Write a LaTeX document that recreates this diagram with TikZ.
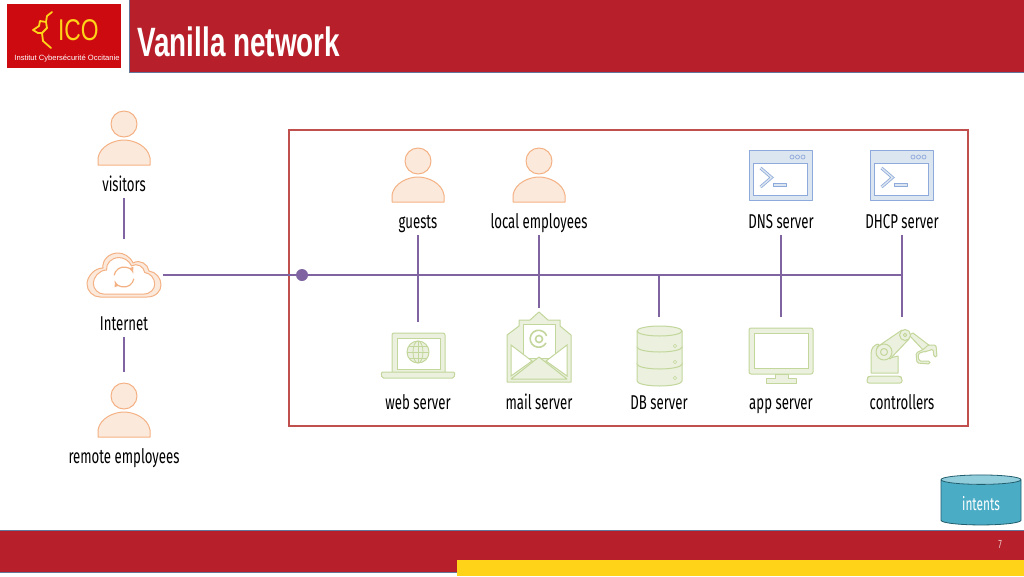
\documentclass[tikz,border=0pt]{standalone}
\usepackage{fontspec}
\usepackage{tikz}
\usetikzlibrary{arrows,shapes.geometric}
\setmainfont{Liberation Sans}
\newfontfamily\narrowfont[FakeStretch=0.66]{Fira Sans}
\newfontfamily\titlefont[FakeStretch=0.68]{Liberation Sans Bold}
\definecolor{icored}{HTML}{B7202A}
\definecolor{logored}{HTML}{CC0A10}
\definecolor{icoyellow}{HTML}{FFD317}
\definecolor{boxred}{HTML}{C0504D}
\definecolor{busviolet}{HTML}{8064A2}
\definecolor{peachline}{HTML}{F4B183}
\definecolor{peachfill}{HTML}{FBE9DC}
\definecolor{greenline}{HTML}{C3D69B}
\definecolor{greenfill}{HTML}{EBF1DE}
\definecolor{blueline}{HTML}{8EA9DB}
\definecolor{bluefill}{HTML}{DCE6F1}
\definecolor{tealbody}{HTML}{4BACC6}
\definecolor{tealtop}{HTML}{92CDDC}
\definecolor{tealline}{HTML}{215E6E}
\tikzset{
  lbl/.style={font=\narrowfont\fontsize{20}{20}\selectfont, text=black, text height=16, text depth=2, minimum height=28, inner sep=0},
  wire/.style={draw=busviolet, line width=1.3pt},
  peach/.style={draw=peachline, fill=peachfill, line width=1pt, line join=round},
  leaf/.style={draw=greenline, fill=greenfill, line width=1pt, line join=round},
  sky/.style={draw=blueline, fill=bluefill, line width=1pt, line join=round},
  pics/person/.style={code={
    \path[peach] (0,0) circle (13);
    \path[peach] (-26,41) -- (-26,34) .. controls (-24,22) and (-10,16) .. (0,16) .. controls (10,16) and (24,22) .. (26,34) -- (26,41) -- cycle;
  }},
  pics/terminal/.style={code={
    \path[sky] (-31.5,-25) rectangle (31.5,25);
    \path[draw=blueline, fill=white, line width=1pt] (-27,-12) rectangle (27,20);
    \foreach \d in {11.5,17,22.5} \draw[blueline, line width=.7pt] (\d,-18) circle (2);
    \draw[blueline, line width=3pt, line join=miter] (-20,-7) -- (-9,2.5) -- (-20,12);
    \draw[bluefill, line width=1.4pt, line join=miter] (-20,-7) -- (-9,2.5) -- (-20,12);
    \path[sky] (-7,8.5) rectangle (6,11.5);
  }}
}
\begin{document}
\begin{tikzpicture}[x=1pt,y=-1pt]
\useasboundingbox (0,0) rectangle (1024,576);
\fill[white] (0,0) rectangle (1024,576);
% header and footer
\path[fill=icored, draw=blueline!70!black, line width=.7pt] (129,-2) rectangle (1026,72);
\node[font=\titlefont\fontsize{41}{41}\selectfont, text=white, anchor=west, inner sep=0] (title) at (137,42) {Vanilla network};
\fill[logored] (7,4) rectangle (121,68);
\node[font=\fontsize{30}{30}\selectfont, text=icoyellow, anchor=west, inner sep=0, xscale=.76] (ico) at (58,30) {ICO};
\node[font=\fontsize{7.6}{8}\selectfont, text=white, inner sep=0] (institut) at (67,58) {Institut Cybersécurité Occitanie};
\draw[icoyellow, line width=1.8pt, line cap=round, line join=round] (52,12) -- (47,16) -- (46,22) -- (47,28) -- (42,33) -- (43,41) -- (51,48) (46,22) -- (40,21) -- (39,26) -- (33,30) -- (38,33) -- (42,33);
\path[fill=icored, draw=blueline!70!black, line width=.7pt] (-2,530) rectangle (1026,572);
\fill[icoyellow] (457,560) rectangle (1024,576);
\node[font=\narrowfont\fontsize{12}{12}\selectfont, text=white!75!icored, inner sep=0] (pagenum) at (1000,545) {7};
% the red box
\node[draw=boxred, line width=1.8pt, minimum width=679, minimum height=296, inner sep=0] (lan) at (628.5,278) {};
% labels
\node[lbl] (visitors) at (124,184) {visitors};
\node[lbl] (internet) at (124,323) {Internet};
\node[lbl] (remote) at (124,456) {remote employees};
\node[lbl] (guests) at (418,221) {guests};
\node[lbl] (locals) at (539,221) {local employees};
\node[lbl] (dns) at (781,221) {DNS server};
\node[lbl] (dhcp) at (902,221) {DHCP server};
\node[lbl] (web) at (418,402) {web server};
\node[lbl] (mail) at (539,402) {mail server};
\node[lbl] (db) at (659,402) {DB server};
\node[lbl] (app) at (781,402) {app server};
\node[lbl] (ctrl) at (902,402) {controllers};
% persons and windows
\foreach \x/\y in {124/124,124/396,418/161,539/161} \pic at (\x,\y) {person};
\foreach \x in {780.5,901.5} \pic at (\x,175) {terminal};
% cloud
\def\cloudpath{(-24,22) -- (23,22) .. controls (32,22) and (37,16) .. (37,10) .. controls (37,3) and (32,-3) .. (25,-4) .. controls (24,-11) and (16,-16) .. (9,-12) .. controls (6,-19) and (-1,-22) .. (-6,-22) .. controls (-15,-22) and (-22,-15) .. (-21,-7) .. controls (-30,-7) and (-37,2) .. (-37,9) .. controls (-37,16) and (-31,22) .. (-24,22) -- cycle}
\begin{scope}[shift={(124,275)}]
\path[peach] \cloudpath;
\begin{scope}[scale=.83, yshift=-1pt]
\path[draw=peachline, fill=white, line width=1pt] \cloudpath;
\end{scope}
\draw[peachline, line width=1.2pt, ->, >=latex] (0,2) ++(190:10) arc (190:340:10);
\draw[peachline, line width=1.2pt, ->, >=latex] (0,2) ++(10:10) arc (10:160:10);
\end{scope}
% web server
\path[leaf, rounded corners=2pt] (392,372) -- (392,333) -- (445,333) -- (445,372);
\path[draw=greenline, fill=white, line width=1pt] (397,338) rectangle (440,369);
\path[leaf, rounded corners=1.5pt] (381,372) -- (455,372) -- (454,378) -- (382,378) -- cycle;
\path[leaf] (418,352) circle (11);
\draw[greenline, line width=.8pt] (418,341) -- (418,363) (407,352) -- (429,352) (409,346) -- (427,346) (409,358) -- (427,358);
\draw[greenline, line width=.8pt] (418,352) ellipse (5 and 11);
% mail server
\path[leaf] (507,382) -- (507,335) -- (519,326) -- (519,320) -- (530,320) -- (539,312) -- (548,320) -- (560,320) -- (560,326) -- (571,335) -- (571,382) -- cycle;
\path[draw=greenline, fill=white, line width=1pt] (523,324) rectangle (555,358);
\path[draw=greenline, fill=white, line width=1pt] (511,345) -- (532,361) -- (511,376) -- cycle;
\path[draw=greenline, fill=white, line width=1pt] (567,345) -- (546,361) -- (567,376) -- cycle;
\path[leaf] (511,379) -- (539,357) -- (567,379) -- cycle;
\draw[greenline, line width=1.6pt] (539,339) circle (3.5);
\draw[greenline, line width=1.6pt] (546,343) arc (30:340:8.5);
% DB server
\foreach \t/\b in {363/381,347/364,331/347} {
  \path[leaf] (637,\t) -- (637,\b) arc (180:0:22.5 and 5) -- (682,\t) -- cycle;
}
\path[leaf] (659.5,331) ellipse (22.5 and 5);
\foreach \t in {346,362,378} \draw[greenline, fill=white, line width=.7pt] (675,\t) circle (1.6);
% app server
\path[leaf, rounded corners=2pt] (749,328) rectangle (813,374);
\path[draw=greenline, fill=white, line width=1pt] (754,333) rectangle (808,368);
\path[leaf] (775,374) -- (788,374) -- (788,378) -- (796,378) -- (796,383) -- (766,383) -- (766,378) -- (775,378) -- cycle;
% controllers
\path[leaf, rounded corners=2pt] (867,383) -- (867,378) -- (869,376) -- (900,376) -- (902,378) -- (902,383) -- cycle;
\path[leaf] (871,373) -- (871,354) .. controls (871,348) and (874,345) .. (878,344) -- (890,358) -- (898,356) -- (898,373) -- cycle;
\path[leaf] (877,347) -- (902,330) -- (909,339) -- (890,359) -- cycle;
\path[leaf] (884,352) circle (8);
\path[leaf] (884,352) circle (3.5);
\path[leaf] (909,335) -- (913,333) -- (930,346) -- (925,352) -- cycle;
\path[leaf] (905,335) circle (5.5);
\path[leaf] (905,335) circle (1.8);
\path[leaf, rounded corners=1.5pt] (924,349) -- (928,345) -- (936,345) -- (937,357) -- (934,357) -- (933,349) -- (928,351) -- (922,352) -- (918,354) -- (919,361) -- (930,361) -- (930,364) -- (917,363) -- (916,353) -- cycle;
% wires
\coordinate (cloudright) at (163,275);
\coordinate (visitorsend) at (124,239);
\coordinate (remoteend) at (124,372);
\node[circle, fill=busviolet, minimum size=12, inner sep=0] (hub) at (302,275) {};
\coordinate (busend) at (902,275);
\coordinate (busdb) at (659,275);
\coordinate (webtop) at (418,322);
\coordinate (mailtop) at (539,308);
\coordinate (dbtop) at (659,317);
\coordinate (apptop) at (781,317);
\coordinate (ctrltop) at (902,317);
\draw[wire] (cloudright) -- (hub) -- (busend);
\draw[wire] (visitors.south) -- (visitorsend);
\draw[wire] (internet.south) -- (remoteend);
\draw[wire] (guests.south) -- (webtop);
\draw[wire] (locals.south) -- (mailtop);
\draw[wire] (busdb) -- (dbtop);
\draw[wire] (dns.south) -- (apptop);
\draw[wire] (dhcp.south) -- (ctrltop);
% intents
\node[cylinder, shape border rotate=90, draw=tealline, line width=.8pt, cylinder uses custom fill, cylinder body fill=tealbody, cylinder end fill=tealtop, aspect=.25, minimum width=80, minimum height=50, inner sep=0, text=white, text height=17, text depth=1, font=\narrowfont\fontsize{18}{18}\selectfont] (intents) at (981,502.5) {intents};
\end{tikzpicture}
\end{document}
